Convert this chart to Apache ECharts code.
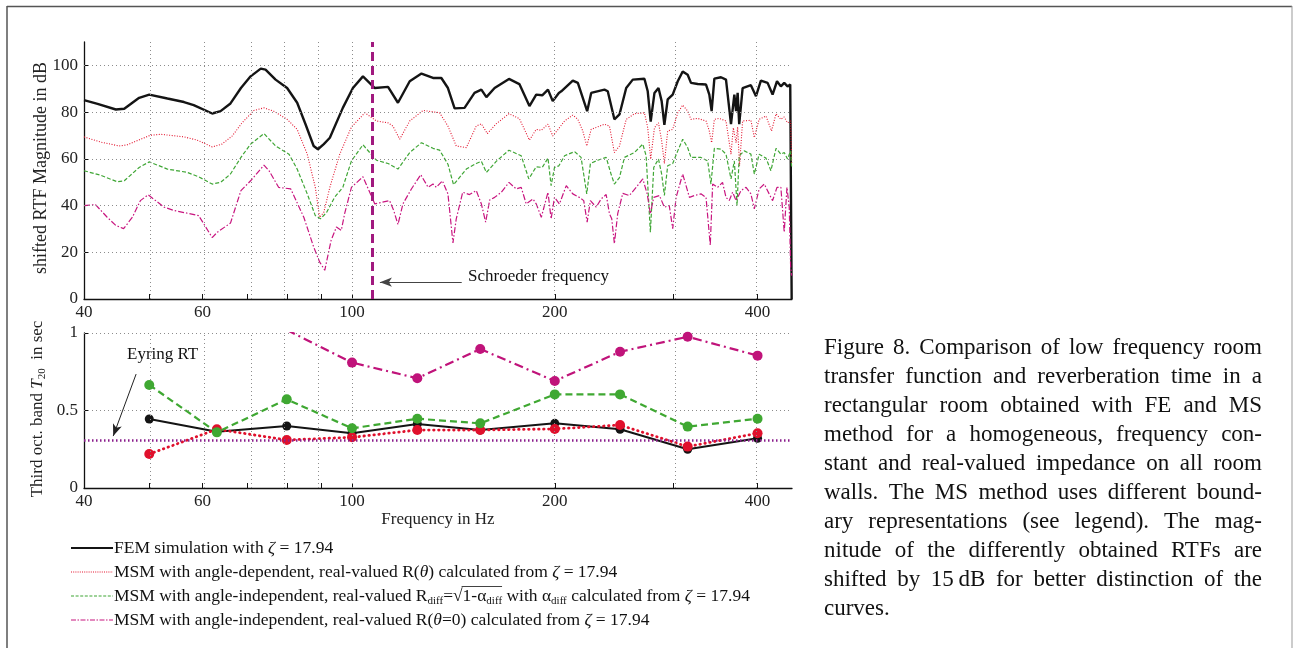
<!DOCTYPE html>
<html><head><meta charset="utf-8">
<script src="https://cdn.jsdelivr.net/npm/echarts@6/dist/echarts.min.js"></script>
<style>html,body{margin:0;padding:0;background:#fff}#c{width:1293px;height:648px}</style>
</head><body><div id="c"></div>
<script>
// ---------------- DATA ----------------
// Top plot: shifted RTF magnitude (dB) vs frequency (Hz)
const FEM_HZ = [40.0,41.9,44.6,45.9,48.3,50.0,53.2,56.3,58.2,62.0,63.8,66.0,68.4,70.7,73.2,74.4,77.0,80.1,82.9,85.3,87.7,89.0,90.8,92.7,96.9,100.3,103.8,108.1,113.1,117.0,121.8,126.8,131.9,135.7,138.8,142.0,146.9,152.0,155.6,158.3,162.8,171.0,177.2,183.4,187.7,191.6,195.4,198.6,202.8,204.5,212.7,216.4,223.4,226.5,237.0,239.7,245.2,249.5,255.3,261.1,271.7,274.8,277.6,281.2,285.1,288.2,290.9,294.2,299.3,304.5,309.7,315.0,318.6,326.0,335.4,339.2,341.9,345.1,353.0,359.1,365.3,369.5,371.7,373.7,375.7,380.1,391.0,397.9,404.6,414.0,421.1,427.5,433.2,438.2,443.2,447.3,449.5];
const FEM_DB = [85.1,83.5,81.1,81.4,86.1,87.5,85.8,84.3,83.0,79.4,80.4,83.7,90.3,95.3,98.6,98.2,93.9,90.3,84.0,74.8,65.5,64.1,66.3,69.0,81.8,90.3,95.3,90.3,90.8,84.0,93.2,96.5,94.6,94.6,90.3,81.6,81.8,88.2,89.6,86.4,90.3,94.2,92.0,82.6,87.5,87.2,89.6,84.7,88.2,88.9,93.5,92.5,80.4,88.2,89.6,88.9,76.9,79.0,90.3,93.9,94.3,88.9,75.9,88.2,90.3,84.7,74.5,85.4,87.5,93.2,97.4,96.0,92.5,92.0,91.8,87.5,80.4,94.3,94.9,93.9,74.8,87.5,80.4,88.2,74.8,90.3,91.5,86.8,93.5,92.5,87.5,93.2,91.0,92.5,91.0,91.8,0];

const MSMR_HZ = [40.0,42.3,45.1,46.4,50.2,52.0,56.3,58.9,62.0,64.1,66.4,68.7,71.5,74.0,76.5,80.1,82.9,85.8,88.2,89.5,89.9,90.8,92.7,95.9,99.8,104.5,108.7,113.1,115.0,117.7,121.8,127.5,132.7,134.9,138.8,142.8,147.8,152.9,155.6,158.8,163.7,171.0,177.2,183.4,187.7,191.0,195.4,198.6,202.8,206.8,212.7,216.4,220.1,223.1,226.5,237.0,241.1,245.2,249.5,255.3,262.6,271.7,274.8,277.6,281.2,285.1,288.2,290.9,294.2,299.3,304.5,309.7,315.0,318.6,326.0,335.4,339.2,341.9,345.1,350.9,359.1,365.3,368.2,371.7,373.7,376.1,380.1,391.0,395.6,402.2,411.7,419.6,426.1,433.2,438.2,443.2,447.9,449.5];
const MSMR_DB = [69.4,67.2,65.5,66.0,70.1,70.5,69.4,68.0,65.1,66.3,69.8,75.5,80.7,81.8,80.4,76.9,72.6,62.0,47.8,35.0,34.3,37.1,47.8,62.0,73.6,79.7,76.2,75.4,74.0,68.4,76.2,80.7,80.0,79.7,74.0,65.5,64.8,74.0,75.0,70.8,75.0,79.3,77.2,68.0,72.6,72.2,74.8,69.8,73.0,76.2,78.7,76.9,71.9,65.5,72.6,74.8,74.0,62.7,65.5,76.9,79.3,79.7,73.3,59.9,73.3,75.4,67.7,58.0,71.9,72.6,79.7,83.0,80.4,76.9,77.3,76.2,71.9,66.9,76.9,77.3,76.2,62.0,73.3,66.9,73.6,57.0,76.2,76.5,69.1,76.9,78.3,71.9,79.3,76.9,77.9,75.4,76.2,58.0];

const DIFF_HZ = [40.0,42.3,44.8,45.9,48.3,50.0,53.2,56.9,59.2,62.0,63.8,66.0,68.4,70.7,74.0,77.0,80.6,82.9,85.8,88.2,89.8,91.7,94.2,96.9,99.8,103.8,108.7,113.1,117.0,121.8,126.8,131.9,134.9,138.8,141.5,147.8,152.9,155.6,158.3,163.7,171.0,178.3,183.0,187.7,191.6,195.4,197.5,199.8,202.8,206.8,214.0,218.8,223.1,225.9,231.7,238.4,242.4,245.2,249.5,253.8,262.6,270.2,273.3,277.3,280.5,285.1,288.2,290.9,294.2,299.3,304.5,309.7,315.0,318.6,329.6,337.3,341.1,345.1,353.0,359.1,365.3,369.5,372.9,375.7,382.3,391.0,395.6,402.2,411.7,418.7,426.1,433.2,438.2,443.2,447.9,449.5];
const DIFF_DB = [54.9,53.0,50.2,50.6,56.3,58.7,55.6,54.2,52.3,49.2,49.9,53.5,60.6,66.3,70.8,65.5,62.0,55.6,45.0,35.7,34.3,37.1,43.5,47.8,59.1,66.0,59.4,58.0,55.6,62.7,66.9,64.5,63.7,57.7,48.9,55.6,58.0,58.9,54.2,58.9,63.7,61.3,51.4,56.6,56.3,60.3,48.5,56.3,57.0,61.3,63.1,60.6,45.0,58.0,59.4,60.6,53.5,49.2,52.0,60.6,62.7,66.3,61.3,28.6,56.3,59.9,53.5,44.3,57.0,58.0,63.4,68.4,64.8,60.6,60.6,59.1,49.2,64.5,64.1,62.0,51.4,59.1,40.0,61.3,63.4,62.0,53.5,62.0,60.3,54.9,64.5,62.0,62.7,59.9,63.4,56.0];

const R0_HZ = [40.0,41.6,43.3,44.6,45.8,47.2,48.5,49.8,52.6,54.4,59.2,62.0,63.1,66.0,68.4,70.7,74.0,75.3,77.8,81.1,84.8,87.7,89.5,91.1,93.1,94.8,96.4,97.5,99.8,103.8,108.1,113.7,115.3,117.0,119.0,122.5,126.5,129.7,131.9,133.4,136.2,138.8,141.2,142.8,146.0,149.4,152.9,155.6,157.9,160.1,162.8,166.6,171.0,175.3,178.3,181.4,185.6,187.7,191.0,195.4,197.5,199.8,203.2,208.0,212.7,217.5,220.8,223.4,225.9,230.4,234.3,238.4,241.1,243.0,245.2,248.0,252.3,258.1,264.2,270.2,274.3,277.3,280.5,286.0,290.9,295.8,299.3,302.8,309.7,316.9,322.3,329.6,335.4,340.3,343.1,349.0,354.9,359.1,363.1,367.3,371.7,378.0,384.6,391.0,395.6,402.2,409.3,416.2,421.1,427.5,433.2,438.2,442.3,445.8,447.9,449.5];
const R0_DB = [40.0,40.4,35.0,31.5,30.1,35.0,42.1,44.6,39.3,37.9,35.7,26.3,28.6,32.5,46.4,50.6,57.3,54.9,47.8,47.1,35.0,22.3,15.9,12.3,25.1,30.8,29.4,36.5,47.8,52.3,40.7,42.1,37.9,31.9,40.7,47.1,53.2,47.8,49.2,47.8,50.6,45.0,24.0,34.3,45.7,44.7,46.4,40.7,32.9,42.4,43.5,45.7,49.9,47.1,47.8,40.7,42.8,40.7,35.0,45.7,34.3,43.5,40.7,48.5,45.0,43.5,42.1,32.9,42.1,39.3,42.8,44.7,36.5,34.3,23.7,36.5,45.2,44.3,47.8,51.4,45.0,36.5,43.5,44.3,39.3,40.0,30.1,43.5,53.5,43.5,44.3,45.0,43.5,23.0,49.2,47.8,49.9,43.5,42.1,45.7,42.1,46.4,47.8,45.0,38.6,47.1,49.2,45.0,42.1,47.8,47.8,28.6,47.8,39.3,13.7,10.0];

const SCHROEDER_HZ = 108.1;

// Bottom plot: third-octave band T20 (s)
const BAND_HZ   = [50, 63, 80, 100, 125, 155, 200, 250, 315, 400];
const T20_FEM   = [0.445, 0.363, 0.400, 0.353, 0.413, 0.374, 0.417, 0.379, 0.250, 0.321];
const T20_RTH   = [0.219, 0.379, 0.310, 0.327, 0.374, 0.374, 0.381, 0.406, 0.267, 0.353];
const T20_DIFF  = [0.665, 0.359, 0.572, 0.385, 0.447, 0.417, 0.604, 0.604, 0.396, 0.447];
const T20_R0    = [null, null, 1.02, 0.809, 0.708, 0.897, 0.690, 0.879, 0.976, 0.854];
const EYRING_T  = 0.313;

// Axis ticks / labels
const GRID_HZ  = [50, 60, 70, 80, 90, 100, 200, 300, 400];
const LABEL_HZ = [40, 60, 100, 200, 400];
const X_MIN_HZ = 40, X_MAX_HZ = 450;
const DB_TICKS = [0, 20, 40, 60, 80, 100];

const CAPTION = [
  'Figure 8. Comparison of low frequency room',
  'transfer function and reverberation time in a',
  'rectangular room obtained with FE and MS',
  'method for a homogeneous, frequency con-',
  'stant and real-valued impedance on all room',
  'walls. The MS method uses different bound-',
  'ary representations (see legend). The mag-',
  'nitude of the differently obtained RTFs are',
  'shifted by 15\u2009dB for better distinction of the',
  'curves.'
];

// ---------------- RENDER ----------------
const FONT = '"Liberation Serif","Times New Roman",serif';
const L = Math.log10;
const pts = (xs, ys) => xs.map((f, i) => [L(f), ys[i]]);
const mctx = document.createElement('canvas').getContext('2d');
function tw(t, size, it) { mctx.font = (it ? 'italic ' : '') + size + 'px ' + FONT; return mctx.measureText(t).width; }

const C_BLACK = '#141414', C_RED = '#e3142e', C_GREEN = '#3fa635', C_MAG = '#c8157f';

function xAxisCfg(gi, name) {
  return {
    type: 'value', gridIndex: gi, min: L(X_MIN_HZ), max: L(X_MAX_HZ),
    axisLine: { show: true, onZero: false, lineStyle: { color: '#111', width: 1.3 } },
    axisTick: { show: true, inside: true, length: 5, customValues: GRID_HZ.map(L), lineStyle: { color: '#111', width: 1 } },
    axisLabel: { show: true, customValues: LABEL_HZ.map(L), formatter: v => String(Math.round(Math.pow(10, v))),
      margin: 5, color: '#222', fontFamily: FONT, fontSize: 17 },
    splitLine: { show: false },
    name: name || '', nameLocation: 'middle', nameGap: 20,
    nameTextStyle: { fontFamily: FONT, fontSize: 17, color: '#222' }
  };
}
const markBase = { silent: true, animation: false, symbol: ['none', 'none'], label: { show: false }, emphasis: { disabled: true } };
const dotted = { color: '#8c8c8c', width: 1, type: [1, 3] };

const series = [
  // grid lines (top)
  { type: 'line', xAxisIndex: 0, yAxisIndex: 0, data: [], z: 1, markLine: Object.assign({}, markBase, {
      lineStyle: dotted, data: GRID_HZ.map(f => ({ xAxis: L(f) })).concat([20, 40, 60, 80, 100].map(v => ({ yAxis: v }))) }) },
  // grid lines (bottom)
  { type: 'line', xAxisIndex: 1, yAxisIndex: 1, data: [], z: 1, markLine: Object.assign({}, markBase, {
      lineStyle: dotted, data: GRID_HZ.map(f => ({ xAxis: L(f) })).concat([{ yAxis: 0.5 }, { yAxis: 1 }]) }) },
  // top curves
  { name: 'FEM', type: 'line', xAxisIndex: 0, yAxisIndex: 0, data: pts(FEM_HZ, FEM_DB), symbol: 'none', z: 3,
    lineStyle: { color: C_BLACK, width: 2.4 } },
  { name: 'MSM R(θ)', type: 'line', xAxisIndex: 0, yAxisIndex: 0, data: pts(MSMR_HZ, MSMR_DB), symbol: 'none', z: 4,
    lineStyle: { color: C_RED, width: 1.1, type: [1, 1.6] } },
  { name: 'MSM Rdiff', type: 'line', xAxisIndex: 0, yAxisIndex: 0, data: pts(DIFF_HZ, DIFF_DB), symbol: 'none', z: 4,
    lineStyle: { color: C_GREEN, width: 1.2, type: [4, 2] } },
  { name: 'MSM R(0)', type: 'line', xAxisIndex: 0, yAxisIndex: 0, data: pts(R0_HZ, R0_DB), symbol: 'none', z: 4,
    lineStyle: { color: C_MAG, width: 1.2, type: [6, 2, 1.5, 2] } },
  // Schroeder frequency line + arrow
  { type: 'line', xAxisIndex: 0, yAxisIndex: 0, data: [], z: 10, markLine: Object.assign({}, markBase, {
      lineStyle: { color: '#a1197f', width: 3, type: [9, 5] }, data: [{ xAxis: L(SCHROEDER_HZ) }] }) },
  { type: 'line', xAxisIndex: 0, yAxisIndex: 0, data: [], z: 10, markLine: Object.assign({}, markBase, {
      symbol: ['arrow', 'none'], symbolSize: [7, 12],
      lineStyle: { color: '#444', width: 1, type: 'solid' },
      data: [[{ coord: [L(110), 7.2] }, { coord: [L(145.5), 7.2] }]] }) },
  // Eyring RT line + arrow
  { type: 'line', xAxisIndex: 1, yAxisIndex: 1, data: [], z: 2, markLine: Object.assign({}, markBase, {
      lineStyle: { color: '#8a1e8c', width: 2.6, type: [1.5, 2.5] }, data: [{ yAxis: EYRING_T }] }) },
  { type: 'line', xAxisIndex: 1, yAxisIndex: 1, data: [], z: 10, markLine: Object.assign({}, markBase, {
      symbol: ['none', 'arrow'], symbolSize: [7, 12],
      lineStyle: { color: '#222', width: 1, type: 'solid' },
      data: [[{ coord: [L(47.8), 0.735] }, { coord: [L(44.2), 0.335] }]] }) },
  // bottom T20 series
  { type: 'line', xAxisIndex: 1, yAxisIndex: 1, data: pts(BAND_HZ, T20_FEM), symbol: 'circle', symbolSize: 9, z: 3,
    itemStyle: { color: C_BLACK }, lineStyle: { color: C_BLACK, width: 2 } },
  { type: 'line', xAxisIndex: 1, yAxisIndex: 1, data: pts(BAND_HZ, T20_RTH), symbol: 'circle', symbolSize: 10, z: 4,
    itemStyle: { color: '#e0102c' }, lineStyle: { color: '#e0102c', width: 2.8, type: [0.5, 4.5], cap: 'round' } },
  { type: 'line', xAxisIndex: 1, yAxisIndex: 1, data: pts(BAND_HZ, T20_DIFF), symbol: 'circle', symbolSize: 10, z: 5,
    itemStyle: { color: '#3fa832' }, lineStyle: { color: '#3fa832', width: 2.2, type: [7, 4] } },
  { type: 'line', xAxisIndex: 1, yAxisIndex: 1, data: pts(BAND_HZ, T20_R0), symbol: 'circle', symbolSize: 10, z: 6,
    connectNulls: false, itemStyle: { color: '#c0137a' }, lineStyle: { color: '#c0137a', width: 2.2, type: [9, 4, 2, 4] } }
];
series.forEach(s => { s.animation = false; s.silent = true; s.clip = true; });

// ---------- graphic: frame, annotations, axis names, legend, caption ----------
const G = [];
const txt = (x, y, t, size, opt) => Object.assign({ type: 'text', x, y, silent: true,
  style: Object.assign({ text: t, fontSize: size, fontFamily: FONT, fill: '#111', align: 'left', verticalAlign: 'middle',
    textAlign: 'left', textVerticalAlign: 'middle' }, opt || {}) });
G.push({ type: 'line', silent: true, shape: { x1: 7, y1: 6.5, x2: 1292, y2: 6.5 }, style: { stroke: '#555', lineWidth: 1.5 } });
G.push({ type: 'line', silent: true, shape: { x1: 7, y1: 6, x2: 7, y2: 648 }, style: { stroke: '#555', lineWidth: 1.5 } });
G.push({ type: 'line', silent: true, shape: { x1: 1292, y1: 6, x2: 1292, y2: 648 }, style: { stroke: '#999', lineWidth: 1 } });
G.push(txt(468, 277, 'Schroeder frequency', 17));
G.push(txt(127, 355, 'Eyring RT', 17));
// rotated axis names
G.push(Object.assign(txt(41, 168, 'shifted RTF Magnitude in dB', 18, { align: 'center', textAlign: 'center', fill: '#222' }), { rotation: Math.PI / 2 }));
G.push(Object.assign(txt(38, 409, 'Third oct. band {it|T}{sub|20}  in sec', 17, { align: 'center', textAlign: 'center', fill: '#222',
  rich: { it: { fontFamily: FONT, fontSize: 17, fontStyle: 'italic', fill: '#222' },
          sub: { fontFamily: FONT, fontSize: 11, fill: '#222', padding: [9, 0, 0, 0] } } }), { rotation: Math.PI / 2 }));

const LEG_FS = 17.5, SUB_FS = 11;
function runs(x, y, segs) {
  let cx = x; const marks = [];
  segs.forEach(s => {
    const size = s.s || LEG_FS, it = !!s.it, w = tw(s.t, size, it);
    G.push(txt(cx, y + (s.dy || 0), s.t, size, { fontStyle: it ? 'italic' : 'normal' }));
    marks.push({ x0: cx, x1: cx + w, s });
    cx += w;
  });
  return marks;
}
const LEG_X0 = 71, LEG_X1 = 113, LEG_T = 114;
const LEG_Y = [548, 572, 596, 620];
const legLines = [
  { stroke: C_BLACK, lineWidth: 2, lineDash: null },
  { stroke: C_RED, lineWidth: 1, lineDash: [1, 1.2] },
  { stroke: C_GREEN, lineWidth: 1.2, lineDash: [3, 1.6] },
  { stroke: C_MAG, lineWidth: 1.2, lineDash: [5, 1.5, 1.5, 1.5] }
];
legLines.forEach((st, i) => G.push({ type: 'line', silent: true, shape: { x1: LEG_X0, y1: LEG_Y[i], x2: LEG_X1, y2: LEG_Y[i] }, style: st }));
const SUB = { s: SUB_FS, dy: 5.5 };
runs(LEG_T, LEG_Y[0], [{ t: 'FEM simulation with ' }, { t: 'ζ', it: true }, { t: ' = 17.94' }]);
runs(LEG_T, LEG_Y[1], [{ t: 'MSM with angle-dependent, real-valued R(' }, { t: 'θ', it: true }, { t: ') calculated from ' }, { t: 'ζ', it: true }, { t: ' = 17.94' }]);
const m3 = runs(LEG_T, LEG_Y[2], [{ t: 'MSM with angle-independent, real-valued R' }, Object.assign({ t: 'diff' }, SUB), { t: '=√' },
  { t: '1-α', ov: true }, Object.assign({ t: 'diff', ov: true }, SUB), { t: ' with α' }, Object.assign({ t: 'diff' }, SUB),
  { t: ' calculated from ' }, { t: 'ζ', it: true }, { t: ' = 17.94' }]);
const ov = m3.filter(m => m.s.ov);
G.push({ type: 'line', silent: true, shape: { x1: ov[0].x0 - 1, y1: LEG_Y[2] - 9.5, x2: ov[ov.length - 1].x1, y2: LEG_Y[2] - 9.5 }, style: { stroke: '#111', lineWidth: 0.8 } });
runs(LEG_T, LEG_Y[3], [{ t: 'MSM with angle-independent, real-valued R(' }, { t: 'θ', it: true }, { t: '=0) calculated from ' }, { t: 'ζ', it: true }, { t: ' = 17.94' }]);

// justified caption
const CAP_L = 824, CAP_R = 1262, CAP_Y0 = 348, CAP_DY = 29, CAP_FS = 23;
CAPTION.forEach((line, i) => {
  const y = CAP_Y0 + CAP_DY * i;
  if (i === CAPTION.length - 1) { G.push(txt(CAP_L, y, line, CAP_FS)); return; }
  const words = line.split(' ');
  const ws = words.map(w => tw(w, CAP_FS, false));
  const gap = (CAP_R - CAP_L - ws.reduce((a, b) => a + b, 0)) / (words.length - 1);
  let cx = CAP_L;
  words.forEach((w, k) => { G.push(txt(cx, y, w, CAP_FS)); cx += ws[k] + gap; });
});

const option = {
  animation: false,
  backgroundColor: '#ffffff',
  grid: [
    { left: 84, top: 42, width: 708, height: 257, containLabel: false },
    { left: 84, top: 333, width: 708, height: 155, containLabel: false }
  ],
  xAxis: [xAxisCfg(0, ''), xAxisCfg(1, 'Frequency in Hz')],
  yAxis: [
    { type: 'value', gridIndex: 0, min: 0, max: 110,
      axisLine: { show: true, lineStyle: { color: '#111', width: 1.3 } },
      axisTick: { show: true, inside: true, length: 5, customValues: DB_TICKS, lineStyle: { color: '#111' } },
      axisLabel: { customValues: DB_TICKS, margin: 6, color: '#222', fontFamily: FONT, fontSize: 17 },
      splitLine: { show: false } },
    { type: 'value', gridIndex: 1, min: 0, max: 1, interval: 0.5,
      axisLine: { show: true, lineStyle: { color: '#111', width: 1.3 } },
      axisTick: { show: true, inside: true, length: 5, lineStyle: { color: '#111' } },
      axisLabel: { margin: 6, color: '#222', fontFamily: FONT, fontSize: 17, formatter: v => (v === 0.5 ? '0.5' : String(v)) },
      splitLine: { show: false } }
  ],
  series,
  graphic: G
};
const chart = echarts.init(document.getElementById('c'), null, { renderer: 'canvas' });
chart.setOption(option);
</script>
</body></html>
